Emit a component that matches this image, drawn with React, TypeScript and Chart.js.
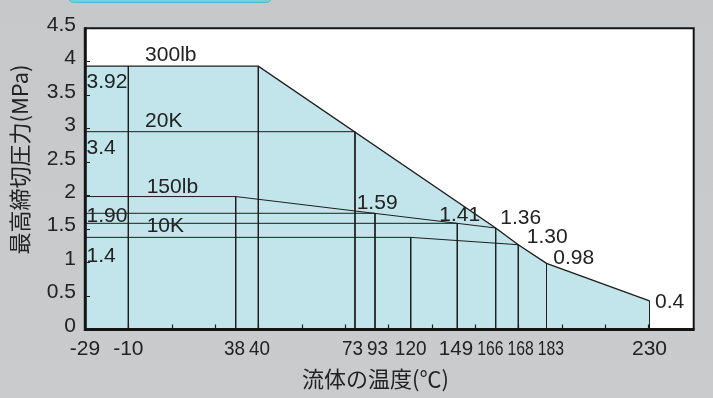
import { useEffect, useRef } from 'react';
import { Chart, LinearScale, registerables } from 'chart.js';

// ---------- data ----------
// x-axis tick labels (°C)
const tempTicks = [-29, -10, 38, 40, 73, 93, 120, 149, 166, 168, 183, 230];
// y-axis tick labels (MPa)
const pressureTicks = [0, 0.5, 1, 1.5, 2, 2.5, 3, 3.5, 4, 4.5];

// rating curves: temperature (°C) -> max pressure (MPa)
const t300lb = [-29, 40, 166, 168, 183, 230];
const p300lb = [3.93, 3.93, 1.51, 1.26, 0.98, 0.42];
const t20K = [-29, 73];
const p20K = [2.95, 2.95];
const t150lb = [-29, 38, 166];
const p150lb = [1.98, 1.98, 1.51];
const t10K = [-29, 120, 168];
const p10K = [1.37, 1.37, 1.26];
// horizontal reference lines from the axis to the 150lb curve
const tRef = [93, 149];
const pRef = [1.73, 1.58];
// vertical drop lines (temperature, pressure at top)
const tDrop = [-10, 38, 40, 73, 93, 120, 149, 166, 168, 183, 230];
const pDrop = [3.93, 1.98, 3.93, 2.95, 1.73, 1.37, 1.58, 1.51, 1.26, 0.98, 0.42];

// in-chart labels (text, temperature, pressure of text baseline-left)
const noteTexts = ['300lb', '3.92', '20K', '3.4', '150lb', '1.90', '10K', '1.4', '1.59', '1.41', '1.36', '1.30', '0.98', '0.4'];
const noteTemps = [-2.5, -28.3, -2.5, -28.3, -1.8, -28.3, -1.8, -28.3, 74.7, 137.8, 166.4, 172.5, 186.1, 232.5];
const notePress = [4.0, 3.6, 3.02, 2.62, 2.03, 1.6, 1.445, 1.0, 1.79, 1.61, 1.565, 1.28, 0.97, 0.32];

const xTitle = '流体の温度(℃)';
const yTitle = '最高締切圧力(MPa)';

// ---------- non-uniform temperature axis (as printed) ----------
const AXIS_UNITS = [0, 1, 3.478, 4, 6.231, 6.693, 7.517, 8.592, 9.478, 10, 10.651, 13.028];
const AXIS_UNITS_SPAN = 14.055;

function tempToUnit(t: number): number {
  const k = tempTicks;
  let i = 0;
  while (i < k.length - 2 && t > k[i + 1]) i++;
  const f = (t - k[i]) / (k[i + 1] - k[i]);
  return AXIS_UNITS[i] + f * (AXIS_UNITS[i + 1] - AXIS_UNITS[i]);
}
function unitToTemp(u: number): number {
  const k = AXIS_UNITS;
  let i = 0;
  while (i < k.length - 2 && u > k[i + 1]) i++;
  const f = (u - k[i]) / (k[i + 1] - k[i]);
  return tempTicks[i] + f * (tempTicks[i + 1] - tempTicks[i]);
}

class PiecewiseScale extends LinearScale {
  static id = 'piecewise';
  static defaults = {};
  getPixelForValue(value: any) {
    if (value === null || value === undefined || Number.isNaN(value)) return NaN;
    return this.getPixelForDecimal(tempToUnit(value) / AXIS_UNITS_SPAN);
  }
  getValueForPixel(pixel: number) {
    return unitToTemp(this.getDecimalForPixel(pixel) * AXIS_UNITS_SPAN);
  }
}

Chart.register(...registerables);
Chart.register(PiecewiseScale as any);

const LATIN = "'Liberation Sans', Arial, Helvetica, sans-serif";
const CJK = "'Noto Sans CJK JP', 'Noto Sans CJK SC', sans-serif";
const INK = '#1e1e1e';
const FILL = '#c1e5ea';

// place labels along a line without overlap (cluster merging, least squares)
function layoutLabels(centers: number[], widths: number[], gap: number): number[] {
  type Cl = { idx: number[]; left: number; width: number };
  const clusters: Cl[] = [];
  const offsets = (cl: Cl) => {
    const o: number[] = [];
    let acc = 0;
    cl.idx.forEach((j) => {
      o.push(acc + widths[j] / 2);
      acc += widths[j] + gap;
    });
    return o;
  };
  const solve = (cl: Cl) => {
    const o = offsets(cl);
    let s = 0;
    cl.idx.forEach((j, k) => (s += centers[j] - o[k]));
    cl.left = s / cl.idx.length;
    cl.width = o[o.length - 1] + widths[cl.idx[cl.idx.length - 1]] / 2;
  };
  centers.forEach((c, i) => {
    const cl: Cl = { idx: [i], left: c - widths[i] / 2, width: widths[i] };
    clusters.push(cl);
    while (clusters.length > 1) {
      const a = clusters[clusters.length - 2];
      const b = clusters[clusters.length - 1];
      if (a.left + a.width + gap > b.left) {
        a.idx = a.idx.concat(b.idx);
        solve(a);
        clusters.pop();
      } else break;
    }
  });
  const out: number[] = new Array(centers.length);
  clusters.forEach((cl) => {
    const o = offsets(cl);
    cl.idx.forEach((j, k) => (out[j] = cl.left + o[k]));
  });
  return out;
}

const decor = {
  id: 'decor',
  beforeDraw(chart: any) {
    const { ctx, chartArea: a } = chart;
    ctx.save();
    ctx.fillStyle = '#ffffff';
    ctx.fillRect(a.left, a.top, a.right - a.left, a.bottom - a.top);
    ctx.restore();
  },
  afterDatasetsDraw(chart: any) {
    const { ctx, chartArea: a } = chart;
    const xs = chart.scales.x;
    const ys = chart.scales.y;
    ctx.save();
    // border
    ctx.strokeStyle = '#141414';
    ctx.lineWidth = 2;
    ctx.beginPath();
    ctx.moveTo(a.left, a.top + 0.2);
    ctx.lineTo(a.right - 0.3, a.top + 0.2);
    ctx.lineTo(a.right - 0.3, a.bottom);
    ctx.stroke();
    ctx.lineWidth = 3;
    ctx.beginPath();
    ctx.moveTo(a.left + 0.3, a.top - 0.8);
    ctx.lineTo(a.left + 0.3, a.bottom + 0.5);
    ctx.lineTo(a.right + 0.7, a.bottom + 0.5);
    ctx.stroke();
    // inward y ticks
    ctx.lineWidth = 1.2;
    ctx.strokeStyle = INK;
    ctx.beginPath();
    for (const v of pressureTicks) {
      const y = Math.round(ys.getPixelForValue(v)) + 0.5;
      ctx.moveTo(a.left + 1.5, y);
      ctx.lineTo(a.left + 5, y);
    }
    // inward minor x ticks
    for (let k = 1; k < Math.floor(AXIS_UNITS_SPAN); k++) {
      const x = Math.round(xs.getPixelForDecimal(k / AXIS_UNITS_SPAN)) + 0.5;
      ctx.moveTo(x, a.bottom - 1);
      ctx.lineTo(x, a.bottom - 4.5);
    }
    ctx.stroke();

    // in-chart labels
    ctx.fillStyle = '#222';
    ctx.font = `21px ${LATIN}`;
    ctx.textAlign = 'left';
    ctx.textBaseline = 'alphabetic';
    noteTexts.forEach((txt, i) => {
      ctx.fillText(txt, xs.getPixelForValue(noteTemps[i]), ys.getPixelForValue(notePress[i]));
    });
    ctx.restore();
  },
  afterDraw(chart: any) {
    const { ctx, chartArea: a } = chart;
    const xs = chart.scales.x;
    ctx.save();
    ctx.fillStyle = '#222';
    // x tick labels (condensed and nudged where crowded)
    ctx.font = `21px ${LATIN}`;
    ctx.textAlign = 'center';
    ctx.textBaseline = 'alphabetic';
    const centers = tempTicks.map((t) => xs.getPixelForValue(t));
    const n = tempTicks.length;
    const widths = tempTicks.map((t, i) => {
      const txt = String(t);
      const nat = ctx.measureText(txt).width;
      const gl = i > 0 ? centers[i] - centers[i - 1] : 99;
      const gr = i < n - 1 ? centers[i + 1] - centers[i] : 99;
      const avail = Math.min(gl, gr) - 4;
      const floor = (txt.length >= 3 ? 0.75 : 0.9) * nat;
      return Math.min(nat, Math.max(floor, avail));
    });
    const pos = layoutLabels(centers, widths, 4);
    tempTicks.forEach((t, i) => {
      ctx.fillText(String(t), pos[i], a.bottom + 25.5, widths[i]);
    });
    // axis titles
    ctx.font = `22px ${CJK}`;
    ctx.textBaseline = 'middle';
    ctx.fillText(xTitle, a.left + (a.right - a.left) * 0.477, a.bottom + 50);
    ctx.translate(19.5, a.top + (a.bottom - a.top) * 0.437);
    ctx.rotate(-Math.PI / 2);
    ctx.fillText(yTitle, 0, 0);
    ctx.restore();
  },
};

const pts = (ts: number[], ps: number[]) => ts.map((t, i) => ({ x: t, y: ps[i] }));

export default function App() {
  const ref = useRef<HTMLCanvasElement | null>(null);
  useEffect(() => {
    if (!ref.current) return;
    const line = (data: any[], extra: any = {}) => ({
      data,
      borderColor: INK,
      borderWidth: 1,
      pointRadius: 0,
      fill: false,
      tension: 0,
      order: 1,
      ...extra,
    });
    const datasets: any[] = [
      line(pts(t300lb, p300lb), { fill: 'origin', backgroundColor: FILL, borderWidth: 1.4, order: 9 }),
      line(pts(t20K, p20K)),
      line(pts(t150lb, p150lb)),
      line(pts(t10K, p10K)),
      ...tRef.map((t, i) => line([{ x: tempTicks[0], y: pRef[i] }, { x: t, y: pRef[i] }])),
      ...tDrop.map((t, i) => line([{ x: t, y: pDrop[i] }, { x: t, y: 0 }])),
    ];
    const chart = new Chart(ref.current, {
      type: 'line',
      data: { datasets },
      plugins: [decor],
      options: {
        animation: false,
        responsive: false,
        events: [],
        layout: { padding: { top: 28, right: 19, left: 0, bottom: 0 } },
        plugins: { legend: { display: false }, tooltip: { enabled: false } },
        scales: {
          x: {
            type: 'piecewise' as any,
            min: tempTicks[0],
            max: tempTicks[tempTicks.length - 1],
            grid: { display: false, drawTicks: false },
            border: { display: false },
            ticks: { display: false },
            afterBuildTicks: (s: any) => {
              s.ticks = tempTicks.map((v) => ({ value: v }));
            },
            afterFit: (s: any) => {
              s.height = 69;
            },
          },
          y: {
            type: 'linear',
            min: pressureTicks[0],
            max: pressureTicks[pressureTicks.length - 1],
            grid: { display: false, drawTicks: false },
            border: { display: false },
            ticks: {
              color: '#222',
              font: { family: LATIN, size: 21 },
              padding: 9,
              labelOffset: -3,
              callback: (v: any) => String(v),
            },
            afterBuildTicks: (s: any) => {
              s.ticks = pressureTicks.map((v) => ({ value: v }));
            },
            afterFit: (s: any) => {
              s.width = 85;
            },
          },
        },
      } as any,
    });
    return () => chart.destroy();
  }, []);

  return (
    <div
      style={{
        position: 'fixed',
        left: 0,
        top: 0,
        width: 713,
        height: 398,
        overflow: 'hidden',
        background: 'linear-gradient(180deg, #c7c8ca 0%, #cacbcd 100%)',
      }}
    >
      <div
        style={{
          position: 'absolute',
          left: 67,
          top: -12,
          width: 206,
          height: 15,
          borderRadius: 9,
          background: '#78cedb',
          border: '1.5px solid #44bccd',
          boxSizing: 'border-box',
        }}
      />
      <canvas ref={ref} width={713} height={398} style={{ position: 'absolute', left: 0, top: 0 }} />
    </div>
  );
}
